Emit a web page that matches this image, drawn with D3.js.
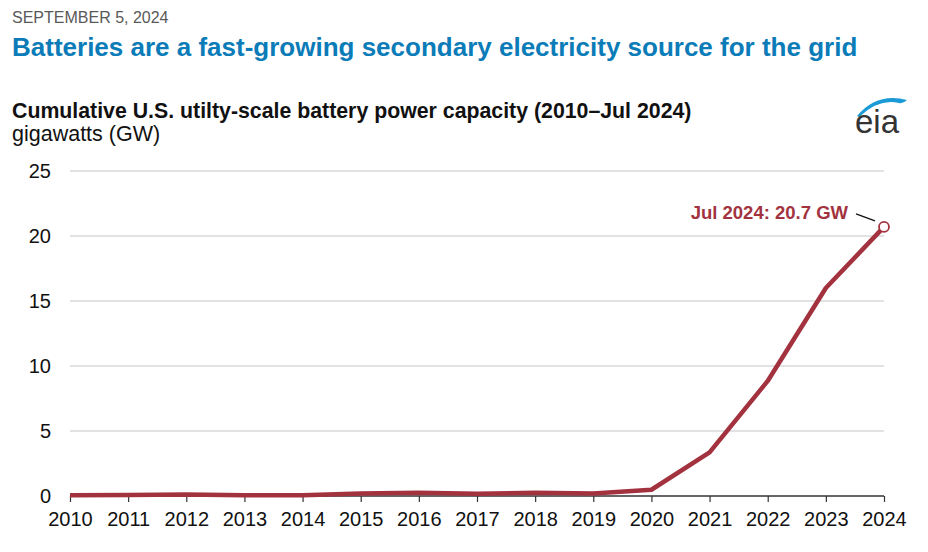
<!DOCTYPE html>
<html>
<head>
<meta charset="utf-8">
<script src="https://cdn.jsdelivr.net/npm/d3@7"></script>
<style>
  body { margin: 0; background: #fff; }
  text { font-family: "Liberation Sans", Arial, Helvetica, sans-serif; }
</style>
</head>
<body>
<svg id="chart" width="928" height="552"></svg>
<script>
const years = [2010, 2011, 2012, 2013, 2014, 2015, 2016, 2017, 2018, 2019, 2020, 2021, 2022, 2023, 2024];
const capacity = [0.06, 0.07, 0.12, 0.05, 0.06, 0.2, 0.25, 0.17, 0.25, 0.2, 0.48, 3.35, 8.85, 16.0, 20.7];
const yTicks = [0, 5, 10, 15, 20, 25];
const lastLabel = "Jul 2024: 20.7 GW";

const lineColor = "#a3323f";

const svg = d3.select("#chart");

const plotLeft = 70, plotRight = 884, plotTop = 171, plotBottom = 496;

const x = d3.scaleLinear().domain([2010, 2024]).range([plotLeft, plotRight]);
const y = d3.scaleLinear().domain([0, 25]).range([plotBottom, plotTop]);

// header
svg.append("text").attr("x", 12).attr("y", 23)
    .attr("font-size", "16px").attr("fill", "#595959")
    .text("SEPTEMBER 5, 2024");

svg.append("text").attr("x", 12).attr("y", 56)
    .attr("font-size", "26px").attr("font-weight", "bold").attr("fill", "#0b7cb8")
    .text("Batteries are a fast-growing secondary electricity source for the grid");

svg.append("text").attr("x", 12).attr("y", 118)
    .attr("font-size", "21.3px").attr("font-weight", "bold").attr("fill", "#111")
    .text("Cumulative U.S. utilty-scale battery power capacity (2010\u2013Jul 2024)");

svg.append("text").attr("x", 12).attr("y", 141)
    .attr("font-size", "21.5px").attr("fill", "#111")
    .text("gigawatts (GW)");

// eia logo
const logo = svg.append("g").attr("transform", "translate(855, 96)");
logo.append("path")
    .attr("d", "M2,20 Q22,-4 52,4 Q48,8 44,7 Q24,2 4,21 Z")
    .attr("fill", "#1a9ad6");
logo.append("text").attr("x", 0).attr("y", 37)
    .attr("font-size", "33px").attr("fill", "#333")
    .text("eia");

// gridlines
svg.append("g")
    .selectAll("line")
    .data(yTicks.filter(d => d > 0))
    .enter().append("line")
        .attr("x1", plotLeft).attr("x2", plotRight)
        .attr("y1", d => y(d)).attr("y2", d => y(d))
        .attr("stroke", "#d9d9d9").attr("stroke-width", 1.3);

// y axis labels
const yAxis = svg.append("g")
    .attr("transform", `translate(${plotLeft}, 0)`)
    .call(d3.axisLeft(y).tickValues(yTicks).tickSize(0).tickPadding(19));
yAxis.select(".domain").remove();
yAxis.selectAll("text")
    .attr("font-size", "20px").attr("fill", "#111")
    .attr("font-family", "Liberation Sans, Arial, sans-serif");

// x axis
const xAxis = svg.append("g")
    .attr("transform", `translate(0, ${plotBottom})`)
    .call(d3.axisBottom(x).tickValues(years).tickFormat(d3.format("d")).tickSize(6).tickPadding(10));
xAxis.select(".domain").attr("stroke", "#333").attr("stroke-width", 1.5).attr("d", `M${plotLeft},0H${plotRight}`);
xAxis.selectAll(".tick line").attr("stroke", "#333").attr("stroke-width", 1.2);
xAxis.selectAll("text")
    .attr("font-size", "20px").attr("fill", "#111")
    .attr("font-family", "Liberation Sans, Arial, sans-serif");

// line
const line = d3.line()
    .x((d, i) => x(years[i]))
    .y(d => y(d));

svg.append("path")
    .datum(capacity)
    .attr("fill", "none")
    .attr("stroke", lineColor)
    .attr("stroke-width", 4.5)
    .attr("stroke-linejoin", "round")
    .attr("d", line);

// end marker and label
const lastX = x(years[years.length - 1]);
const lastY = y(capacity[capacity.length - 1]);

svg.append("line")
    .attr("x1", lastX - 28).attr("y1", lastY - 13)
    .attr("x2", lastX - 9).attr("y2", lastY - 6)
    .attr("stroke", "#111").attr("stroke-width", 1.3);

svg.append("circle")
    .attr("cx", lastX).attr("cy", lastY).attr("r", 5)
    .attr("fill", "#fff").attr("stroke", lineColor).attr("stroke-width", 1.8);

svg.append("text")
    .attr("x", lastX - 36).attr("y", lastY - 8)
    .attr("text-anchor", "end")
    .attr("font-size", "18.5px").attr("font-weight", "bold").attr("fill", lineColor)
    .text(lastLabel);
</script>
</body>
</html>
